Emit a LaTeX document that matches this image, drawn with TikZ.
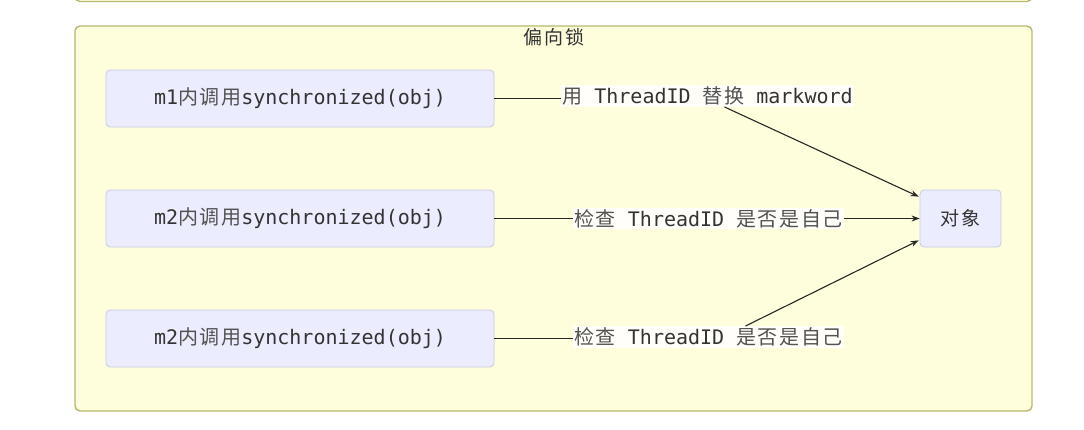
\documentclass[tikz,border=0pt]{standalone}
\usepackage{fontspec}
\setmonofont{DejaVu Sans Mono}
\newfontfamily\cjk[LetterSpace=8]{Noto Sans CJK SC}
\usetikzlibrary{arrows.meta}
\definecolor{clfill}{HTML}{FFFEDC}
\definecolor{clline}{HTML}{B8B870}
\definecolor{ndfill}{HTML}{ECECFF}
\definecolor{ndline}{HTML}{C8C8E6}
\definecolor{txt}{HTML}{333333}
\newcommand\zh[1]{{\cjk\color{txt!85} #1}}
\begin{document}
\begin{tikzpicture}[x=1pt,y=-1pt,
  cluster/.style={draw=clline,fill=clfill,line width=1.4pt,rounded corners=5pt},
  nodebox/.style={draw=ndline,fill=ndfill,line width=0.8pt,rounded corners=4pt,
    minimum height=57pt,inner sep=0pt,text=txt,font=\ttfamily\fontsize{20}{22}\selectfont},
  lbl/.style={fill=white,fill opacity=0.85,text opacity=1,inner sep=1.5pt,text=txt,
    font=\ttfamily\fontsize{20}{22}\selectfont},
  edge/.style={draw=black!85,line width=1.1pt},
  arr/.style={edge,-{Stealth[length=8pt,width=6pt]}}]
\useasboundingbox (0,0) rectangle (1084,429);
\fill[white] (0,0) rectangle (1084,429);
\draw[cluster] (75,-30) rectangle (1032,1.5);
\draw[cluster] (75,26) rectangle (1032,411);
\node[text=txt,font=\cjk\fontsize{19}{20}\selectfont] (title) at (554,37) {偏向锁};
\node[nodebox,minimum width=388pt] (m1) at (300,98.5) {m1\zh{内调用}synchronized(obj)};
\node[nodebox,minimum width=388pt] (m2) at (300,218.5) {m2\zh{内调用}synchronized(obj)};
\node[nodebox,minimum width=388pt] (m3) at (300,338.5) {m2\zh{内调用}synchronized(obj)};
\node[nodebox,minimum width=81pt,font=\cjk\fontsize{19}{20}\selectfont] (obj) at (960.5,218.5) {对象};
\node[lbl] (l1) at (707.5,96) {\zh{用} ThreadID \zh{替换} markword};
\node[lbl] (l2) at (708.5,218.5) {\zh{检查} ThreadID \zh{是否是自己}};
\node[lbl] (l3) at (708.5,337) {\zh{检查} ThreadID \zh{是否是自己}};
\draw[edge] (m1.east) -- (m1.east -| l1.west);
\draw[arr] ([xshift=17pt]l1.south) -- ([shift={(-1,7)}]obj.north west);
\draw[edge] (m2.east) -- (l2.west);
\draw[arr] (l2.east) -- (obj.west);
\draw[edge] (m3.east) -- (m3.east -| l3.west);
\draw[arr] ([xshift=37pt]l3.north) -- ([shift={(-1,-7)}]obj.south west);
\end{tikzpicture}
\end{document}
